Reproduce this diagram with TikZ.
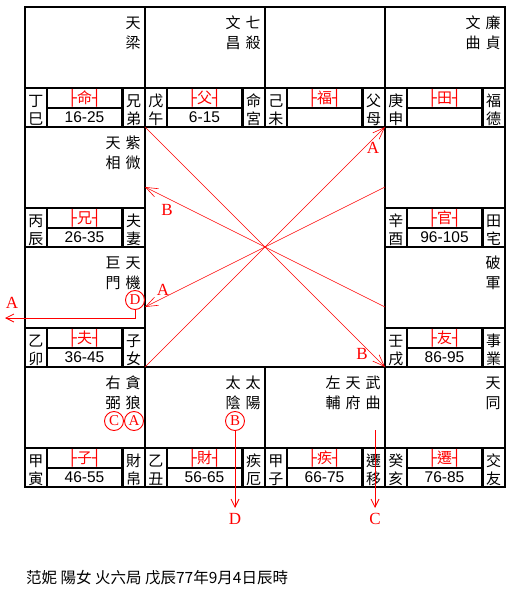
\documentclass[tikz,border=0pt]{standalone}
\usepackage{fontspec}
\setmainfont{Liberation Serif}
\newfontfamily\cjk{Noto Sans CJK TC}
\newfontfamily\numfont{Liberation Sans}
\newfontfamily\boxfont{DejaVu Sans Mono}
\usetikzlibrary{arrows.meta}
\newcommand\gongtag[1]{{\boxfont├}{\cjk#1}{\boxfont┤}}

\begin{document}
\begin{tikzpicture}[x=1pt,y=-1pt,
  gridline/.style={line width=2.4pt},
  flyline/.style={red,line width=.6pt},
  flyarrow/.style={flyline,-{Straight Barb[length=12pt,width=9pt]}},
  dropline/.style={red,line width=.8pt,-{Straight Barb[length=8pt,width=8pt]}},
  star/.style={font=\fontsize{15}{20}\cjk,align=center,inner sep=0pt},
  cjkchar/.style={font=\fontsize{15}{15}\cjk,inner sep=0pt},
  agetxt/.style={font=\fontsize{15.5}{15.5}\numfont,inner sep=0pt},
  tagtxt/.style={text=red,font=\fontsize{15}{15}\selectfont,inner sep=0pt},
  hualbl/.style={text=red,font=\fontsize{17}{17}\selectfont,inner sep=0pt},
  ring/.style={circle,draw=red,line width=.9pt,minimum size=19pt,inner sep=0pt,text=red,font=\fontsize{15}{15}\selectfont}]
\useasboundingbox (0,0) rectangle (520,593);

\draw[gridline] (25,7) rectangle (505,487);
\draw[gridline] (145,7)--(145,487) (385,7)--(385,487) (25,127)--(505,127) (25,367)--(505,367);
\draw[gridline] (265,7)--(265,127) (265,367)--(265,487) (25,247)--(145,247) (385,247)--(505,247);

\foreach \cx/\cy/\gan/\zhi/\gong/\age/\pa/\pb in {
  0/0/丁/巳/命/16-25/兄/弟, 1/0/戊/午/父/6-15/命/宮, 2/0/己/未/福//父/母, 3/0/庚/申/田//福/德,
  0/1/丙/辰/兄/26-35/夫/妻, 3/1/辛/酉/官/96-105/田/宅,
  0/2/乙/卯/夫/36-45/子/女, 3/2/壬/戌/友/86-95/事/業,
  0/3/甲/寅/子/46-55/財/帛, 1/3/乙/丑/財/56-65/疾/厄, 2/3/甲/子/疾/66-75/遷/移, 3/3/癸/亥/遷/76-85/交/友}{
  \begin{scope}[shift={({25+120*\cx},{7+120*\cy})}]
    \draw[gridline] (0,81)--(120,81) (21.7,81)--(21.7,120) (97.3,81)--(97.3,120) (21.7,101)--(97.3,101);
    \node[cjkchar] (gan-\cx-\cy) at (10.8,94) {\gan};
    \node[cjkchar] (zhi-\cx-\cy) at (10.8,112) {\zhi};
    \node[tagtxt] (tag-\cx-\cy) at (59.5,91) {\gongtag{\gong}};
    \node[agetxt] (age-\cx-\cy) at (59.5,110.5) {\age};
    \node[cjkchar] (pa-\cx-\cy) at (108.7,94) {\pa};
    \node[cjkchar] (pb-\cx-\cy) at (108.7,112) {\pb};
  \end{scope}
}

\foreach \cx/\cy/\i/\sa/\sb in {0/0/0/天/梁, 1/0/0/七/殺, 1/0/1/文/昌, 3/0/0/廉/貞, 3/0/1/文/曲,
  0/1/0/紫/微, 0/1/1/天/相, 0/2/0/天/機, 0/2/1/巨/門, 3/2/0/破/軍,
  0/3/0/貪/狼, 0/3/1/右/弼, 1/3/0/太/陽, 1/3/1/太/陰, 2/3/0/武/曲, 2/3/1/天/府, 2/3/2/左/輔, 3/3/0/天/同}
  \node[star] (star-\cx-\cy-\i) at ({25+120*\cx+108-20*\i},{7+120*\cy+26}) {\sa\\\sb};

\coordinate (ctr) at (265,247);
\coordinate (cTL) at (145,127);
\coordinate (cBL) at (145,367);
\coordinate (cTR) at (385,127);
\coordinate (cBR) at (385,367);
\coordinate (mL1) at (145,187);
\coordinate (mL2) at (145,307);
\coordinate (mR1) at (385,187);
\coordinate (mR2) at (385,307);
\draw[flyline] (cTL)--(ctr)--(cBL);
\draw[flyline] (mR1)--(ctr)--(mR2);
\draw[flyarrow] (ctr)--(cTR);
\draw[flyarrow] (ctr)--(cBR);
\draw[flyarrow] (ctr)--(mL1);
\draw[flyarrow] (ctr)--(mL2);
\node[hualbl] (la1) at (373,148) {A};
\node[hualbl] (lb1) at (167,210) {B};
\node[hualbl] (la2) at (163,290) {A};
\node[hualbl] (lb2) at (362,354) {B};

\node[ring] (ringC) at (114,421) {C};
\node[ring] (ringA) at (134,421) {A};
\node[ring] (ringB) at (235,421) {B};
\node[ring] (ringD) at (135,300) {D};

\coordinate (dEnd) at (235,508);
\coordinate (cStart) at (375,430);
\coordinate (cEnd) at (375,508);
\coordinate (dBend) at (135,318);
\coordinate (aEnd) at (5,318);
\draw[dropline] (ringB)--(dEnd);
\draw[dropline] (cStart)--(cEnd);
\draw[dropline] (ringD)--(dBend)--(aEnd);
\node[hualbl] (ld) at (235,519) {D};
\node[hualbl] (lc) at (375,519) {C};
\node[hualbl] (la3) at (12,303) {A};

\node[anchor=west,font=\fontsize{15.5}{15.5}\cjk,inner sep=0pt] (caption) at (26,578) {范妮 陽女 火六局 戊辰77年9月4日辰時};
\end{tikzpicture}
\end{document}
